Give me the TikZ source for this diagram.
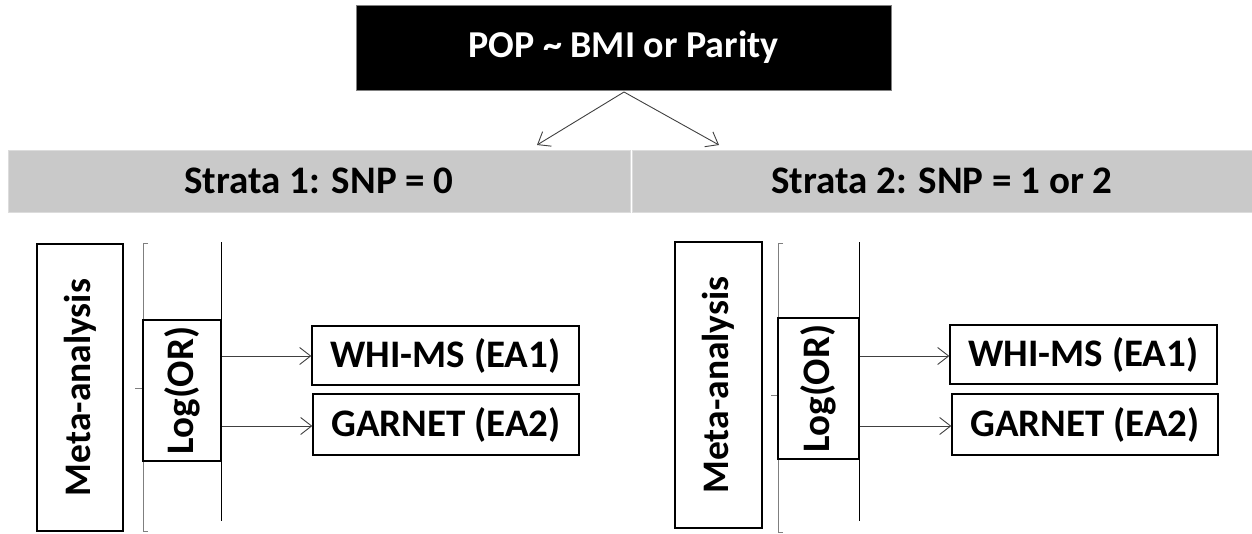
\documentclass[tikz,border=0pt]{standalone}
\usepackage{fontspec}
\setmainfont{Carlito}
\usepackage{graphicx}
\usetikzlibrary{arrows.meta}
\definecolor{bargray}{HTML}{C9C9C9}
\definecolor{baredge}{HTML}{DCDCDC}
\definecolor{brk}{HTML}{7F7F7F}
\definecolor{arr}{HTML}{404040}
\tikzset{
  topbox/.style={fill=black, draw=gray, line width=0.8pt, text=white, inner sep=0pt, font=\bfseries\fontsize{38}{42}\selectfont},
  bar/.style={fill=bargray, draw=baredge, line width=1pt, inner sep=0pt, font=\bfseries\fontsize{39}{44}\selectfont},
  box/.style={draw=black, line width=1.3pt, inner sep=0pt, font=\bfseries\fontsize{39}{44}\selectfont},
  metabox/.style={box, font=\bfseries\fontsize{37.5}{42}\selectfont},
  brack/.style={draw=brk, line width=1pt},
  vline/.style={draw=black, line width=1pt},
  conn/.style={draw=arr, line width=0.9pt, -{Straight Barb[length=11pt,width=17pt,line width=0.9pt]}},
}
\begin{document}
\begin{tikzpicture}[x=1pt,y=-1pt]
\useasboundingbox (0,0) rectangle (1252,533);
% top
\node[topbox, minimum width=535, minimum height=85] (top) at (623.5,47.5) {POP \textasciitilde{} BMI or Parity};
\coordinate (apex) at (624,92);
\coordinate (tipL) at (537,145);
\coordinate (tipR) at (719,145);
\draw[conn] (apex) -- (tipL);
\draw[conn] (apex) -- (tipR);
% strata bars
\node[bar, minimum width=622, minimum height=62] (s1) at (319,181) {Strata 1: SNP = 0};
\node[bar, minimum width=620, minimum height=62] (s2) at (942,181) {Strata 2: SNP = 1 or 2};
% left group
\node[metabox, minimum width=86, minimum height=287] (m1) at (80,387.5) {\rotatebox{90}{Meta-analysis}};
\draw[brack] (148,243) -- (143,243) -- (143,531) -- (148,531);
\draw[brack] (135,388) -- (143,388);
\node[box, minimum width=78, minimum height=141] (l1) at (182,390.5) {\rotatebox{90}{Log(OR)}};
\draw[vline] (l1.north east) -- ++(0,-77);
\draw[vline] (l1.south east) -- ++(0,59);
\node[box, minimum width=267, minimum height=59] (w1) at (445.5,355.5) {WHI-MS (EA1)};
\node[box, minimum width=266, minimum height=61] (g1) at (446,424.5) {GARNET (EA2)};
\draw[conn] (l1.east |- 0,356) -- (w1.west |- 0,356);
\draw[conn] (l1.east |- 0,426) -- (g1.west |- 0,426);
% right group
\node[metabox, minimum width=87, minimum height=286] (m2) at (718.5,385) {\rotatebox{90}{Meta-analysis}};
\draw[brack] (783,243) -- (778,243) -- (778,532) -- (783,532);
\draw[brack] (771,395) -- (778,395);
\node[box, minimum width=81, minimum height=141] (l2) at (818.5,388.5) {\rotatebox{90}{Log(OR)}};
\draw[vline] (l2.north east) -- ++(0,-75);
\draw[vline] (l2.south east) -- ++(0,61);
\node[box, minimum width=267, minimum height=59] (w2) at (1083.5,354.5) {WHI-MS (EA1)};
\node[box, minimum width=266, minimum height=61] (g2) at (1085,424.5) {GARNET (EA2)};
\draw[conn] (l2.east |- 0,356) -- (w2.west |- 0,356);
\draw[conn] (l2.east |- 0,426) -- (g2.west |- 0,426);
\end{tikzpicture}
\end{document}
